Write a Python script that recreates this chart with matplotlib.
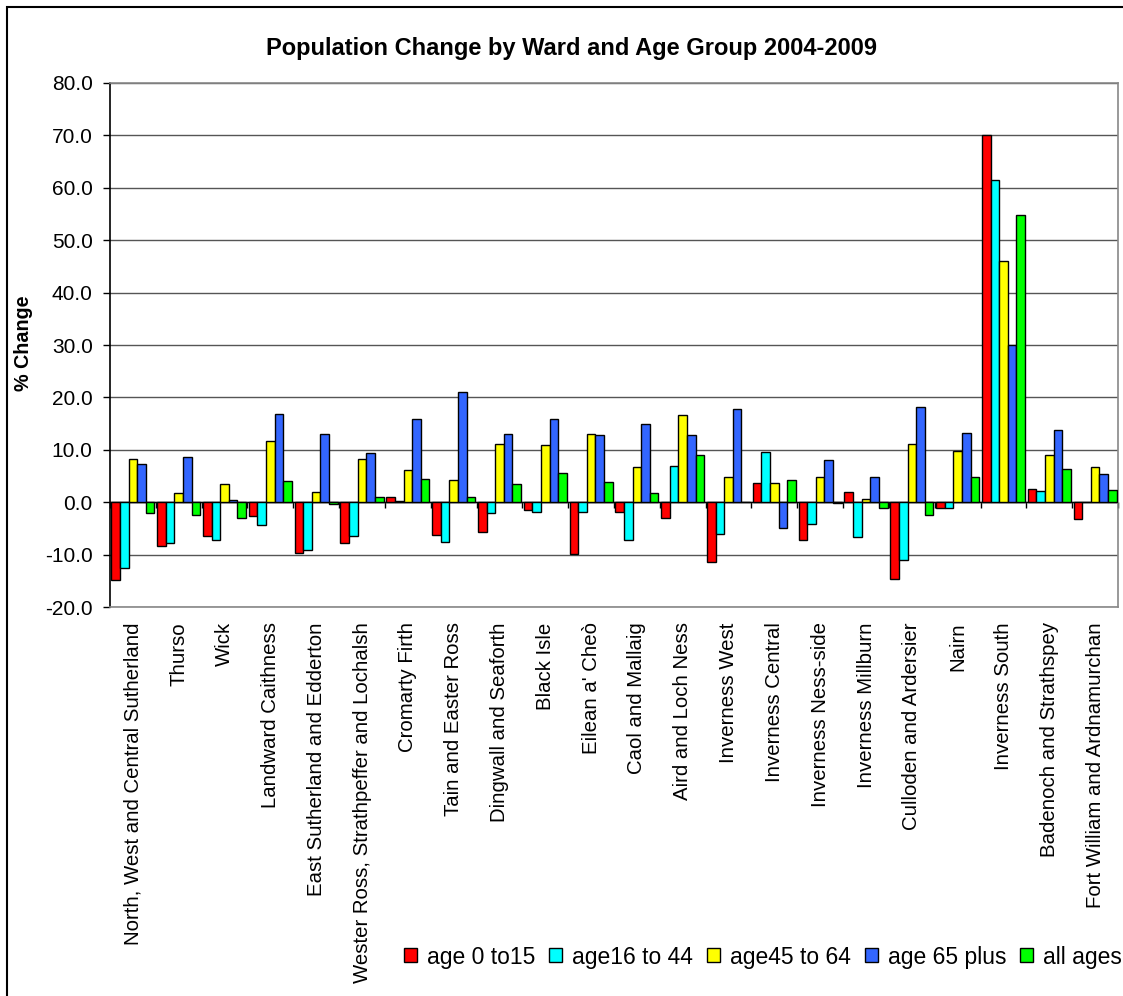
import numpy as np
import matplotlib
matplotlib.use("Agg")
import matplotlib.pyplot as plt
from matplotlib.patches import Rectangle

# ---------------------------
# Datos
# ---------------------------
wards = ["North, West and Central Sutherland", "Thurso", "Wick", "Landward Caithness",
         "East Sutherland and Edderton", "Wester Ross, Strathpeffer and Lochalsh",
         "Cromarty Firth", "Tain and Easter Ross", "Dingwall and Seaforth", "Black Isle",
         "Eilean a' Cheò", "Caol and Mallaig", "Aird and Loch Ness", "Inverness West",
         "Inverness Central", "Inverness Ness-side", "Inverness Millburn",
         "Culloden and Ardersier", "Nairn", "Inverness South", "Badenoch and Strathspey",
         "Fort William and Ardnamurchan"]

age_0_15 = [-14.8, -8.4, -6.5, -2.7, -9.7, -7.8, 1.0, -6.2, -5.7, -1.5, -9.8,
            -1.8, -3.1, -11.4, 3.6, -7.2, 1.9, -14.6, -1.2, 70.0, 2.6, -3.2]
age_16_44 = [-12.6, -7.8, -7.2, -4.3, -9.1, -6.5, 0.3, -7.5, -2.1, -1.8, -1.8,
             -7.2, 7.0, -6.0, 9.6, -4.1, -6.7, -11.1, -1.2, 61.5, 2.2, 0.0]
age_45_64 = [8.3, 1.7, 3.5, 11.6, 1.9, 8.3, 6.1, 4.2, 11.2, 10.9, 13.1,
             6.7, 16.6, 4.8, 3.6, 4.8, 0.6, 11.1, 9.8, 46.0, 9.0, 6.8]
age_65_plus = [7.3, 8.6, 0.4, 16.9, 13.1, 9.3, 15.9, 21.0, 13.1, 15.9, 12.8,
               15.0, 12.8, 17.8, -5.0, 8.0, 4.8, 18.2, 13.2, 30.0, 13.7, 5.4]
all_ages = [-2.1, -2.4, -3.0, 4.1, -0.3, 1.0, 4.5, 1.0, 3.5, 5.5, 3.8,
            1.7, 9.0, 0.1, 4.2, -0.2, -1.2, -2.5, 4.8, 54.9, 6.4, 2.3]

series = [age_0_15, age_16_44, age_45_64, age_65_plus, all_ages]
series_labels = ["age 0 to15", "age16 to 44", "age45 to 64", "age 65 plus", "all ages"]
colors = ["#FF0000", "#00FFFF", "#FFFF00", "#3366FF", "#00FF00"]

# ---------------------------
# Figura
# ---------------------------
plt.rcParams['font.family'] = ['Liberation Sans', 'DejaVu Sans']

fig = plt.figure(figsize=(11.23, 9.96), dpi=100)
ax = fig.add_axes([110 / 1123, 1 - 607 / 996, 1008 / 1123, 524 / 996])

# borde del gráfico
fig.patches.append(Rectangle((7 / 1123, -0.1), 1.2, 1 - 7 / 996 + 0.1,
                             transform=fig.transFigure, fill=False,
                             edgecolor="black", linewidth=1.5))

x = np.arange(len(wards))
w = 0.188
for i, (vals, lab, col) in enumerate(zip(series, series_labels, colors)):
    ax.bar(x + (i - 2) * w, vals, width=w, color=col, edgecolor="black",
           linewidth=1.0, label=lab, zorder=3)

ax.set_xlim(-0.5, len(wards) - 0.5)
ax.set_ylim(-20, 80)
ax.set_yticks(np.arange(-20, 81, 10))
ax.set_yticklabels([f"{v:.1f}" for v in np.arange(-20, 81, 10)], fontsize=15)
ax.yaxis.grid(True, color="#555555", linewidth=1.0, zorder=0)
ax.set_axisbelow(True)

ax.set_xticks(x)
ax.set_xticklabels(wards, rotation=90, fontsize=14.7, va="top")
ax.tick_params(axis="x", length=0, pad=11)
ax.tick_params(axis="y", length=5, width=1, direction="out", pad=7.5, color="black")

for s in ["top", "right", "bottom"]:
    ax.spines[s].set_color("#888888")
    ax.spines[s].set_linewidth(1.2)
ax.spines["left"].set_color("black")
ax.spines["left"].set_linewidth(1.2)

# eje de categorias en cero con marcas entre grupos
ax.axhline(0, color="black", linewidth=1.0, zorder=2)
sec = ax.secondary_xaxis(0.2)
sec.set_xticks(np.arange(-0.5, len(wards), 1.0))
sec.set_xticklabels([])
sec.tick_params(axis="x", length=4.5, width=1, direction="out", color="black")
sec.spines["bottom"].set_visible(False)

ax.set_ylabel("% Change", fontsize=14.2, fontweight="bold")
ax.yaxis.set_label_coords(-(110 - 33) / 1008, 0.5 + (345 - 343) / 524)

fig.text(572 / 1123, 1 - 48 / 996, "Population Change by Ward and Age Group 2004-2009",
         ha="center", va="center", fontsize=17, fontweight="bold")

fig.legend(loc="center", bbox_to_anchor=(763 / 1123, 1 - 957 / 996), ncol=5,
           frameon=False, fontsize=16.5, handlelength=0.55, handleheight=0.55,
           handletextpad=0.44, columnspacing=0.62, borderaxespad=0, borderpad=0)

fig.savefig("out.png", dpi=100)
